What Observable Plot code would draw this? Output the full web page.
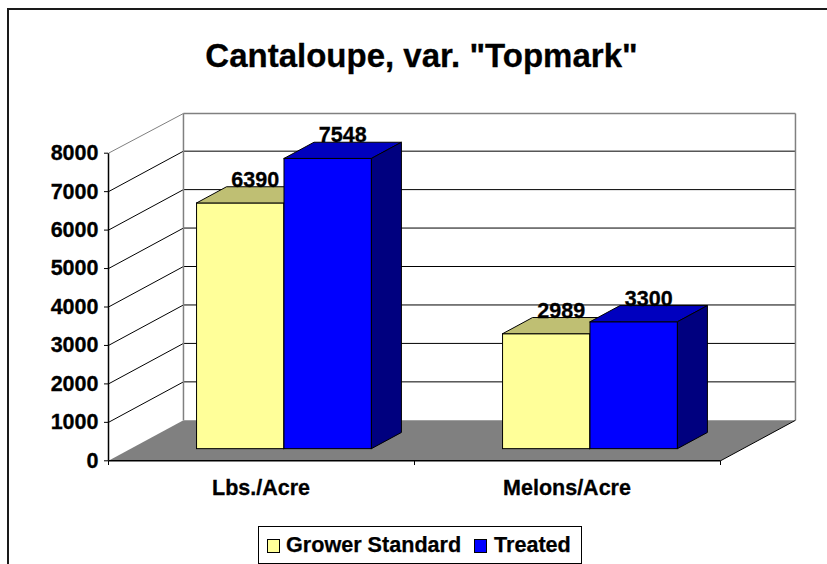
<!DOCTYPE html>
<html>
<head>
<meta charset="utf-8">
<script src="https://cdn.jsdelivr.net/npm/d3@7"></script>
<script src="https://cdn.jsdelivr.net/npm/@observablehq/plot@0.6"></script>
<style>
  html, body { margin: 0; padding: 0; background: #fff; overflow: hidden; }
  body { width: 827px; height: 564px; position: relative; font-family: "Liberation Sans", Arial, sans-serif; color: #000; }
  #frame { position: absolute; left: 7px; top: 8px; right: -4px; bottom: -4px; border: 2px solid #1a1a1a; box-sizing: border-box; }
  #title { position: relative; height: 100px; box-sizing: border-box; padding-top: 37px; padding-left: 16px; text-align: center; font-weight: bold; font-size: 33px; line-height: 38px; white-space: nowrap; -webkit-text-stroke: 0.3px #000; }
  #chart { position: relative; height: 420px; }
  #chart svg { display: block; }
  #chart svg text { stroke: #000; stroke-width: 0.3px; }
  #legend { position: absolute; left: 258px; top: 526px; width: 323.5px; height: 38px; box-sizing: border-box; border: 1px solid #000; background: #fff; font-weight: bold; font-size: 21.6px; -webkit-text-stroke: 0.25px #000; }
  #legend span { position: absolute; top: 4px; line-height: 28px; white-space: nowrap; }
  #legend i { position: absolute; top: 12px; width: 13px; height: 14px; box-sizing: border-box; border: 1px solid #000; }
</style>
</head>
<body>
<div id="frame"></div>
<div id="title"></div>
<div id="chart"></div>
<div id="legend"></div>
<script>
const titleText = 'Cantaloupe, var. "Topmark"';
const categories = ["Lbs./Acre", "Melons/Acre"];
const seriesNames = ["Grower Standard", "Treated"];
const growerStandard = [6390, 2989];
const treated = [7548, 3300];
const yTicks = [0, 1000, 2000, 3000, 4000, 5000, 6000, 7000, 8000];

const faceColors = [
  {front: "#FFFF99", top: "#BFBF73", side: "#7F7F4C"},
  {front: "#0000FF", top: "#0000BF", side: "#00007F"}
];
const series = [growerStandard, treated];

// Oblique projection: one unit of depth moves a point by these data offsets.
const depthX = 0.245;
const depthY = 1053;
const topDepthY = 1033;
const barWidth = 1 / 3.5;
const gapEach = 0.75 / 3.5;
const frontDepth = 0.3;
const backDepth = 0.7;
const P = (x, v, d) => ({x: x + d * depthX, y: v + d * depthY});
const poly = (...pts) => [...pts, pts[0]];

const ink = "#000";
const wall = "#808080";

const floor = poly(P(0, 0, 0), P(2, 0, 0), P(2, 0, 1), P(0, 0, 1));

const barMarks = [];
const labels = [];
categories.forEach((c, i) => {
  series.forEach((vals, s) => {
    const v = vals[i];
    const x0 = i + gapEach + s * barWidth;
    const x1 = x0 + barWidth;
    const col = faceColors[s];
    const faces = [
      [poly(P(x0, 0, frontDepth), P(x1, 0, frontDepth), P(x1, v, frontDepth), P(x0, v, frontDepth)), col.front],
      [poly(P(x0, v, frontDepth), P(x1, v, frontDepth), P(x1, v, backDepth), P(x0, v, backDepth)), col.top],
      [poly(P(x1, 0, frontDepth), P(x1, 0, backDepth), P(x1, v, backDepth), P(x1, v, frontDepth)), col.side]
    ];
    faces.forEach(([pts, fill]) => barMarks.push(
      Plot.line(pts, {x: "x", y: "y", fill, stroke: ink, strokeWidth: 1, strokeLinejoin: "miter"})
    ));
    labels.push({...P((x0 + x1) / 2, v, 0.5), v});
  });
});

const font = {fontFamily: "Liberation Sans, Arial, sans-serif", fontWeight: "bold", fontSize: 21.5};

const plot = Plot.plot({
  width: 827,
  height: 420,
  marginLeft: 108,
  marginRight: 107,
  marginTop: 0,
  marginBottom: 0,
  style: {background: "transparent", overflow: "visible"},
  x: {type: "linear", domain: [0, 2], range: [108, 720], axis: null},
  y: {type: "linear", domain: [0, 8000], range: [360.3, 52.7], axis: null},
  marks: [
    // left wall gridlines
    Plot.link(yTicks.slice(1, -1), {x1: () => 0, y1: v => v, x2: () => depthX, y2: v => v + depthY, stroke: ink, strokeWidth: 1}),
    Plot.link([8000], {x1: () => 0, y1: v => v, x2: () => depthX, y2: v => v + topDepthY, stroke: wall, strokeWidth: 1}),
    // back wall gridlines
    Plot.link(yTicks.slice(1, -1), {x1: () => depthX, y1: v => v + depthY, x2: () => 2 + depthX, y2: v => v + depthY, stroke: ink, strokeWidth: 1}),
    Plot.link([8000], {x1: () => depthX, y1: v => v + topDepthY, x2: () => 2 + depthX, y2: v => v + topDepthY, stroke: wall, strokeWidth: 1.5}),
    // wall verticals
    Plot.link([depthX, 2 + depthX], {x1: d => d, x2: d => d, y1: () => depthY, y2: () => 8000 + topDepthY, stroke: wall, strokeWidth: 1.5}),
    // floor
    Plot.line(floor, {x: "x", y: "y", fill: wall, stroke: "none"}),
    Plot.link([0], {x1: () => 2, y1: () => 0, x2: () => 2 + depthX, y2: () => depthY, stroke: ink, strokeWidth: 1}),
    ...barMarks,
    // front floor edge and left axis line
    Plot.link([0], {x1: () => 0, x2: () => 2, y1: () => 0, y2: () => 0, stroke: ink, strokeWidth: 1.5}),
    Plot.link([0], {x1: () => 0, x2: () => 0, y1: () => 0, y2: () => 8000, stroke: ink, strokeWidth: 1.5}),
    Plot.link([0, 1, 2], {x1: d => d, x2: d => d, y1: () => 0, y2: () => -110, stroke: ink, strokeWidth: 1}),
    Plot.axisY(yTicks, {anchor: "left", tickSize: 4, tickPadding: 6, tickFormat: d3.format("d"), label: null, stroke: ink, fill: ink, ...font}),
    Plot.text(categories, {x: (d, i) => i + 0.5, y: () => 0, text: d => d, dy: 27, dx: -0.5, ...font, fill: ink}),
    Plot.text(labels, {x: "x", y: "y", text: d => String(d.v), dy: -15, ...font, fill: ink})
  ]
});

document.getElementById("title").textContent = titleText;
document.getElementById("chart").appendChild(plot);

const legend = document.getElementById("legend");
const legendItems = [
  {swatch: 8, text: 27},
  {swatch: 215, text: 235}
];
seriesNames.forEach((name, s) => {
  const sw = document.createElement("i");
  sw.style.left = legendItems[s].swatch + "px";
  sw.style.background = faceColors[s].front;
  const t = document.createElement("span");
  t.style.left = legendItems[s].text + "px";
  t.textContent = name;
  legend.append(sw, t);
});
</script>
</body>
</html>
